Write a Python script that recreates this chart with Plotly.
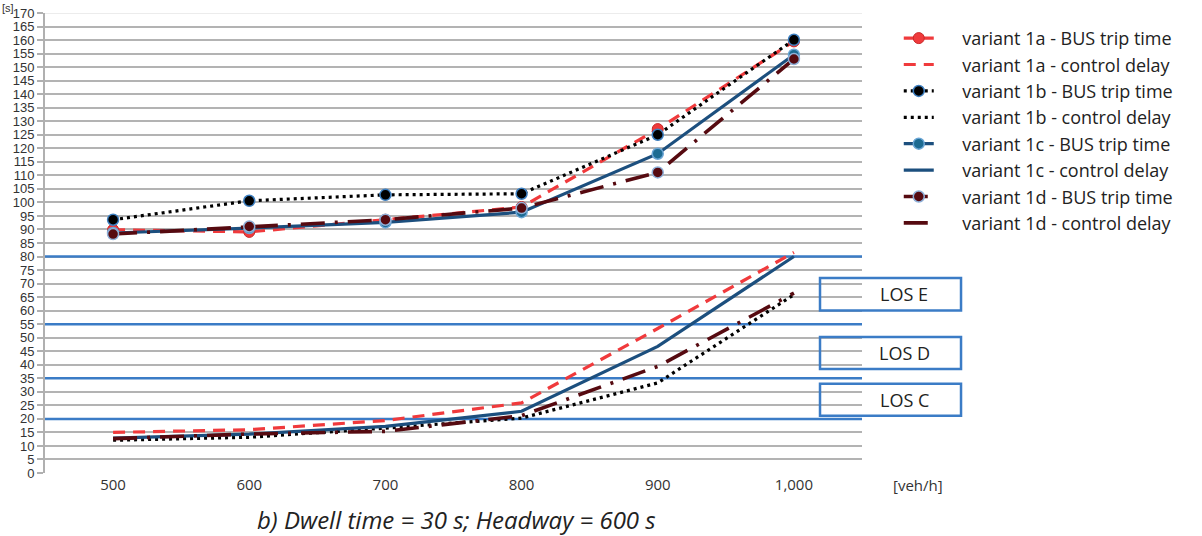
import plotly.graph_objects as go

flow = [500, 600, 700, 800, 900, 1000]
flow_labels = ["500", "600", "700", "800", "900", "1,000"]

bus_1a = [89.9, 89.1, 93.6, 98.3, 127.1, 159.5]
bus_1b = [93.6, 100.6, 102.8, 103.2, 125.0, 160.1]
bus_1c = [88.7, 90.5, 92.6, 96.4, 118.0, 154.6]
bus_1d = [88.3, 91.1, 93.6, 97.9, 111.1, 153.0]

ctl_1a = [15.0, 16.0, 19.4, 25.9, 53.4, 81.5]
ctl_1b = [12.1, 13.2, 16.6, 20.3, 33.3, 65.9]
ctl_1c = [12.9, 14.4, 17.2, 22.8, 46.8, 80.0]
ctl_1d = [12.7, 14.4, 15.4, 21.2, 39.4, 66.5]

los_limits = [20, 35, 55, 80]
los_names = ["LOS C", "LOS D", "LOS E"]
y_ticks = list(range(0, 175, 5))
x_range = [450, 1050]

RED = "#f03a3c"
BLACK = "#000000"
BLUE = "#1c4f7e"
DRED = "#560a10"
LOSBLUE = "#3b7cc6"
FONT = "Open Sans"
PAD = "\u00a0" * 5

fig = go.Figure()

# LOS threshold lines (drawn as traces so they sit above gridlines, below data)
for v in los_limits:
    fig.add_trace(go.Scatter(x=x_range, y=[v, v], mode="lines", showlegend=False,
                             hoverinfo="skip", line=dict(color=LOSBLUE, width=2.5)))

def add(name, y, color, dash, width, marker=None):
    kw = dict(x=flow, y=y, name=PAD + name, mode="lines",
              line=dict(color=color, dash=dash, width=width))
    if marker:
        kw["mode"] = "lines+markers"
        kw["marker"] = marker
    fig.add_trace(go.Scatter(**kw))

add("variant 1a - BUS trip time", bus_1a, RED, "12px,8px", 3.2,
    dict(size=11, color=RED, line=dict(color="#c92a2a", width=1)))
add("variant 1a - control delay", ctl_1a, RED, "12px,8px", 3.2)
add("variant 1b - BUS trip time", bus_1b, BLACK, "3px,4px", 3.2,
    dict(size=11, color=BLACK, line=dict(color="#3d7fc0", width=1.5)))
add("variant 1b - control delay", ctl_1b, BLACK, "3px,4px", 3.2)
add("variant 1c - BUS trip time", bus_1c, BLUE, "solid", 3.2,
    dict(size=11, color="#1d6b92", line=dict(color="#6aa6d6", width=1.5)))
add("variant 1c - control delay", ctl_1c, BLUE, "solid", 3.2)
add("variant 1d - BUS trip time", bus_1d, DRED, "24px,10px,3px,10px", 3.6,
    dict(size=11, color=DRED, line=dict(color="#8fb0d8", width=1.5)))
add("variant 1d - control delay", ctl_1d, DRED, "24px,10px,3px,10px", 3.6)

# faint top border
fig.add_shape(type="line", xref="paper", yref="y", x0=0, x1=1, y0=170, y1=170,
              line=dict(color="#ececec", width=2), layer="above")

# LOS boxes
box_x0, box_x1 = 0.9486, 1.1212
box_ranges = [(21.2, 33.0), (38.4, 50.3), (60.1, 72.1)]
for (b0, b1), name in zip(box_ranges, los_names):
    fig.add_shape(type="rect", xref="paper", yref="y", x0=box_x0, x1=box_x1,
                  y0=b0, y1=b1, line=dict(color=LOSBLUE, width=2.5),
                  fillcolor="rgba(0,0,0,0)", layer="above")
    fig.add_annotation(text=name, xref="paper", yref="y", x=1.052, y=(b0 + b1) / 2,
                       showarrow=False, font=dict(family=FONT, size=18, color="#222"),
                       xanchor="center", yanchor="middle")

fig.add_annotation(text="[s]", xref="paper", yref="paper", x=-0.0453, y=1.0109,
                   showarrow=False, font=dict(family="Liberation Sans", size=11, color="#333"),
                   xanchor="center", yanchor="middle")
fig.add_annotation(text="[veh/h]", xref="paper", yref="paper", x=1.0686, y=0,
                   showarrow=False, font=dict(family=FONT, size=15, color="#333"),
                   xanchor="center", yanchor="middle", yshift=-12)
fig.add_annotation(text="<i>b) Dwell time = 30 s; Headway = 600 s</i>", xref="paper", yref="paper",
                   x=0.504, y=0, showarrow=False,
                   font=dict(family=FONT, size=24, color="#222"),
                   xanchor="center", yanchor="middle", yshift=-46)

fig.update_xaxes(range=x_range, tickmode="array", tickvals=flow, ticktext=flow_labels,
                 showgrid=False, zeroline=False, showline=False, ticks="",
                 ticklabelstandoff=1, automargin=False,
                 tickfont=dict(family=FONT, size=15, color="#333"))
fig.update_yaxes(range=[0, 170], tickmode="array", tickvals=y_ticks,
                 ticktext=[str(v) for v in y_ticks], automargin=False,
                 showgrid=True, gridcolor="#b3b3b3", gridwidth=2, zeroline=False,
                 showline=True, linecolor="#b0b0b0", linewidth=2,
                 ticks="outside", ticklen=6, tickcolor="#b0b0b0", tickwidth=1.5,
                 tickfont=dict(family="Liberation Sans", size=13, color="#333"))

fig.update_layout(
    width=1202, height=536,
    margin=dict(l=45, r=340, t=13, b=63, autoexpand=False),
    plot_bgcolor="white", paper_bgcolor="white",
    showlegend=True,
    legend=dict(x=1.045, y=0.985, xanchor="left", yanchor="top",
                font=dict(family=FONT, size=18, color="#222"),
                bgcolor="rgba(0,0,0,0)", tracegroupgap=0),
)

fig.write_html("out.html", config={"displayModeBar": False},
               post_script="document.body.style.margin='0';document.body.style.overflow='hidden';")
